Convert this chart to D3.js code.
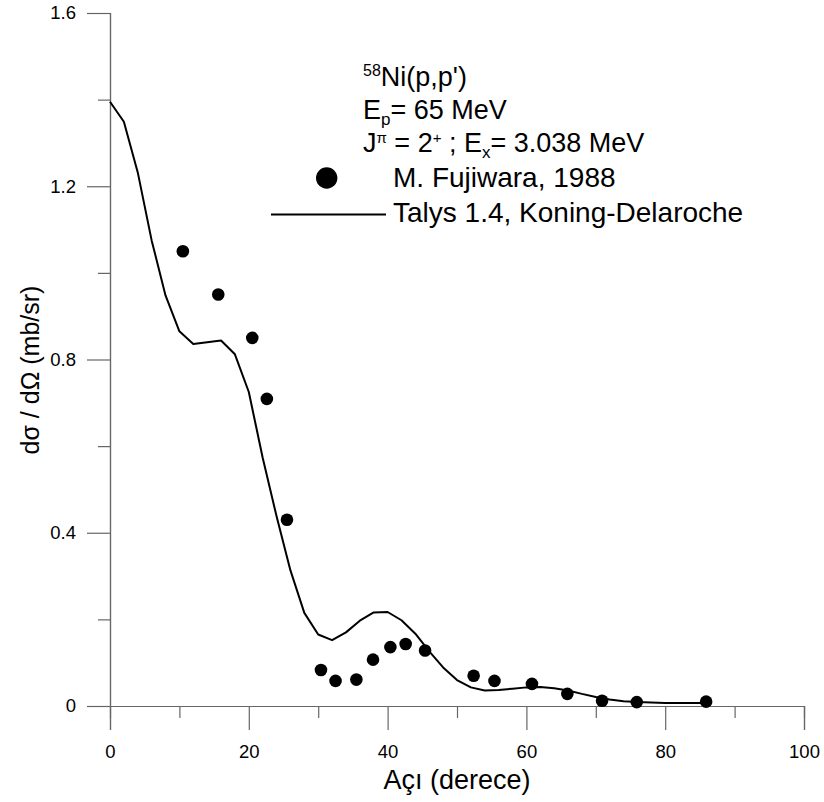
<!DOCTYPE html>
<html>
<head>
<meta charset="utf-8">
<script src="https://cdn.jsdelivr.net/npm/d3@7/dist/d3.min.js"></script>
<style>
  html, body { margin: 0; padding: 0; background: #fff; }
  svg { display: block; font-family: "Liberation Sans", Arial, sans-serif; }
</style>
</head>
<body>
<svg id="chart" width="824" height="802"></svg>
<script>
// ---- data ----
const expAngle = [10.5, 15.6, 20.5, 22.6, 25.5, 30.4, 32.5, 35.5, 37.9, 40.4, 42.6, 45.4, 52.4, 55.4, 60.8, 65.9, 70.9, 75.9, 85.9];
const expValue = [1.050, 0.950, 0.850, 0.709, 0.430, 0.083, 0.058, 0.061, 0.107, 0.136, 0.143, 0.128, 0.070, 0.058, 0.051, 0.028, 0.012, 0.009, 0.010];

const talysAngle = [0, 2, 4, 6, 8, 10, 12, 14, 16, 18, 20, 22, 24, 26, 28, 30, 32, 34, 36, 38, 40, 42, 44, 46, 48, 50, 52, 54, 56, 58, 60, 62, 64, 66, 68, 70, 72, 74, 76, 78, 80, 82, 84, 86];
const talysValue = [1.395, 1.349, 1.232, 1.075, 0.948, 0.865, 0.836, 0.840, 0.844, 0.812, 0.725, 0.573, 0.438, 0.313, 0.215, 0.165, 0.152, 0.170, 0.197, 0.216, 0.217, 0.198, 0.167, 0.126, 0.089, 0.060, 0.043, 0.036, 0.037, 0.040, 0.043, 0.044, 0.041, 0.036, 0.028, 0.021, 0.015, 0.011, 0.009, 0.008, 0.007, 0.007, 0.007, 0.007];

const xMajorTicks = [0, 20, 40, 60, 80, 100];
const xMinorTicks = [10, 30, 50, 70, 90];
const yMajorTicks = [0, 0.4, 0.8, 1.2, 1.6];
const yMinorTicks = [0.2, 0.6, 1.0, 1.4];

const xTitle = "Açı (derece)";
const yTitle = "dσ / dΩ (mb/sr)";
const legendExp = "M. Fujiwara, 1988";
const legendTalys = "Talys 1.4, Koning-Delaroche";

// ---- layout ----
const svg = d3.select("#chart");
const x = d3.scaleLinear().domain([0, 100]).range([110, 804]);
const y = d3.scaleLinear().domain([0, 1.6]).range([706, 13]);
const axisColor = "#666";

function styleAxis(g) {
  g.select(".domain").attr("stroke", axisColor).attr("stroke-width", 1.2);
  g.selectAll(".tick line").attr("stroke", axisColor).attr("stroke-width", 1.2);
  g.selectAll(".tick text").attr("fill", "#000");
}

// minor x ticks
svg.append("g").attr("transform", `translate(0,${y(0)})`)
  .call(d3.axisBottom(x).tickValues(xMinorTicks).tickSize(12).tickFormat(""))
  .call(styleAxis);
// major x
svg.append("g").attr("transform", `translate(0,${y(0)})`)
  .call(d3.axisBottom(x).tickValues(xMajorTicks).tickSize(24).tickPadding(15).tickFormat(d3.format("d")))
  .call(styleAxis)
  .call(g => g.selectAll(".tick text").attr("font-size", 18.5).attr("font-family", "Liberation Sans, Arial, sans-serif"));

// minor y
svg.append("g").attr("transform", `translate(${x(0)},0)`)
  .call(d3.axisLeft(y).tickValues(yMinorTicks).tickSize(12).tickFormat(""))
  .call(styleAxis);
// major y
svg.append("g").attr("transform", `translate(${x(0)},0)`)
  .call(d3.axisLeft(y).tickValues(yMajorTicks).tickSize(23).tickPadding(11).tickFormat(d => d === 0 ? "0" : d3.format(".1f")(d)))
  .call(styleAxis)
  .call(g => g.selectAll(".tick text").attr("font-size", 18.5).attr("font-family", "Liberation Sans, Arial, sans-serif"));

// axis titles
svg.append("text")
  .attr("x", 457).attr("y", 789)
  .attr("text-anchor", "middle")
  .attr("font-size", 27)
  .text(xTitle);

svg.append("text")
  .attr("transform", "translate(39,370) rotate(-90)")
  .attr("text-anchor", "middle")
  .attr("font-size", 25)
  .text(yTitle);

// Talys curve
const curveData = talysAngle.map((a, i) => [a, talysValue[i]]);
svg.append("path")
  .datum(curveData)
  .attr("fill", "none")
  .attr("stroke", "#000")
  .attr("stroke-width", 2)
  .attr("stroke-linejoin", "round")
  .attr("d", d3.line().x(d => x(d[0])).y(d => y(d[1])));

// experimental points
const expData = expAngle.map((a, i) => [a, expValue[i]]);
svg.append("g").selectAll("circle")
  .data(expData)
  .join("circle")
  .attr("cx", d => x(d[0]))
  .attr("cy", d => y(d[1]))
  .attr("r", 6.3)
  .attr("fill", "#000");

// header text
const hx = 363;
const hf = 27;
const t1 = svg.append("text").attr("x", hx).attr("y", 86).attr("font-size", hf);
t1.append("tspan").attr("font-size", 16).attr("dy", -10).text("58");
t1.append("tspan").attr("dy", 10).text("Ni(p,p')");

const t2 = svg.append("text").attr("x", hx).attr("y", 119).attr("font-size", hf);
t2.append("tspan").text("E");
t2.append("tspan").attr("font-size", 17).attr("dy", 6).text("p");
t2.append("tspan").attr("dy", -6).text("= 65 MeV");

const t3 = svg.append("text").attr("x", hx).attr("y", 152).attr("font-size", hf);
t3.append("tspan").text("J");
t3.append("tspan").attr("font-size", 15).attr("dy", -9).text("π");
t3.append("tspan").attr("dy", 9).text(" = 2");
t3.append("tspan").attr("font-size", 15).attr("dy", -9).text("+");
t3.append("tspan").attr("dy", 9).text(" ; E");
t3.append("tspan").attr("font-size", 17).attr("dy", 6).text("x");
t3.append("tspan").attr("dy", -6).text("= 3.038 MeV");

// legend
svg.append("circle").attr("cx", 326.7).attr("cy", 178).attr("r", 10.7).attr("fill", "#000");
svg.append("text").attr("x", 393).attr("y", 187).attr("font-size", 28).text(legendExp);
svg.append("line").attr("x1", 271).attr("x2", 386).attr("y1", 214.5).attr("y2", 214.5)
  .attr("stroke", "#000").attr("stroke-width", 2);
svg.append("text").attr("x", 393).attr("y", 222).attr("font-size", 28).text(legendTalys);
</script>
</body>
</html>
